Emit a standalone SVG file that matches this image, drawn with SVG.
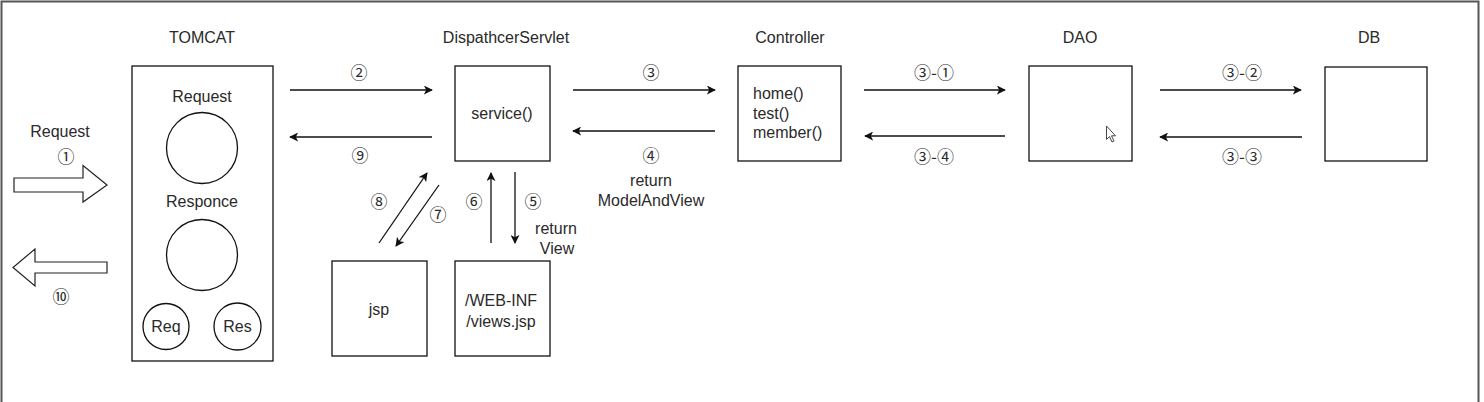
<svg xmlns="http://www.w3.org/2000/svg" width="1484" height="402" viewBox="0 0 1484 402">
<style>
.t{font-family:"Liberation Sans","DejaVu Sans",Arial,sans-serif;font-size:16px;fill:#2a2a2a;text-anchor:middle}
.n{font-family:"Noto Sans CJK JP","Noto Sans CJK SC","DejaVu Sans",sans-serif;font-size:17px;fill:#2a2a2a;text-anchor:middle}
.b{fill:#fff;stroke:#111;stroke-width:1.3}
.c{stroke:#111;stroke-width:1.3;fill:none;marker-end:url(#ah)}
.fat{fill:#fff;stroke:#222;stroke-width:1.2}
</style>
<defs>
<marker id="ah" viewBox="0 0 10 10" refX="9" refY="5" markerWidth="9" markerHeight="9" markerUnits="userSpaceOnUse" orient="auto">
<path d="M0,0 L10,5 L0,10 L2.5,5 Z" fill="#111"/>
</marker>
</defs>
<rect width="1484" height="402" fill="#fff"/>
<path d="M1.5,402 V1.5 H1478.5 V402" fill="none" stroke="#555" stroke-width="2"/>

<g id="tomcat">
<text class="t" x="202" y="43">TOMCAT</text>
<rect class="b" x="132" y="66" width="141" height="295"/>
<text class="t" x="202" y="102">Request</text>
<circle class="b" cx="202" cy="148" r="35.5"/>
<text class="t" x="202" y="207">Responce</text>
<circle class="b" cx="202" cy="255" r="35.5"/>
<circle class="b" cx="166" cy="326.5" r="23"/>
<text class="t" x="166" y="332">Req</text>
<circle class="b" cx="237.5" cy="326.5" r="23.5"/>
<text class="t" x="237.5" y="332">Res</text>
</g>

<g id="request-in">
<text class="t" x="60" y="137">Request</text>
<text class="n" x="66" y="163">①</text>
<path class="fat" d="M14,178 H83 V165.5 L107,185 L83,202 V192 H14 Z"/>
</g>
<g id="response-out">
<path class="fat" d="M107,262 H35 V249 L13,267.5 L35,286 V273 H107 Z"/>
<text class="n" x="61" y="303">⑩</text>
</g>

<g id="dispatcher">
<text class="t" x="506" y="43">DispathcerServlet</text>
<rect class="b" x="455" y="66" width="95" height="95"/>
<text class="t" x="502" y="119">service()</text>
</g>

<g id="jsp">
<rect class="b" x="332" y="261" width="95" height="95"/>
<text class="t" x="379" y="315">jsp</text>
</g>

<g id="views">
<rect class="b" x="455" y="261" width="95" height="95"/>
<text class="t" x="501" y="306">/WEB-INF</text>
<text class="t" x="501" y="327">/views.jsp</text>
</g>

<g id="controller">
<text class="t" x="790" y="43">Controller</text>
<rect class="b" x="738" y="66" width="103" height="95"/>
<text class="t" x="753" y="99" style="text-anchor:start">home()</text>
<text class="t" x="753" y="119" style="text-anchor:start">test()</text>
<text class="t" x="753" y="138" style="text-anchor:start">member()</text>
</g>

<g id="dao">
<text class="t" x="1080" y="43">DAO</text>
<rect class="b" x="1029" y="66" width="103" height="95"/>
<path d="M1106.5,126 V139.5 L1109.5,136.5 L1112,142 L1114,141 L1111.5,135.8 H1115.5 Z" fill="#fff" stroke="#333" stroke-width="0.9"/>
</g>

<g id="db">
<text class="t" x="1369" y="43">DB</text>
<rect class="b" x="1325" y="67" width="102" height="94"/>
</g>

<g id="connectors">
<line class="c" x1="290" y1="90" x2="432" y2="90"/>
<text class="n" x="359" y="79">②</text>
<line class="c" x1="432" y1="137" x2="290" y2="137"/>
<text class="n" x="360" y="162">⑨</text>

<line class="c" x1="573" y1="90" x2="715" y2="90"/>
<text class="n" x="651" y="79">③</text>
<line class="c" x1="715" y1="131" x2="573" y2="131"/>
<text class="n" x="651" y="162">④</text>
<text class="t" x="651" y="186">return</text>
<text class="t" x="651" y="206">ModelAndView</text>

<line class="c" x1="864" y1="90" x2="1005" y2="90"/>
<text class="n" x="934" y="79">③-①</text>
<line class="c" x1="1005" y1="136" x2="865" y2="136"/>
<text class="n" x="934" y="163">③-④</text>

<line class="c" x1="1160" y1="90" x2="1301" y2="90"/>
<text class="n" x="1242" y="79">③-②</text>
<line class="c" x1="1302" y1="137" x2="1160" y2="137"/>
<text class="n" x="1242" y="163">③-③</text>

<line class="c" x1="379" y1="243" x2="427" y2="173"/>
<text class="n" x="379" y="208">⑧</text>
<line class="c" x1="439" y1="185" x2="396" y2="246"/>
<text class="n" x="438" y="221">⑦</text>

<line class="c" x1="491" y1="243" x2="491" y2="173"/>
<text class="n" x="474" y="208">⑥</text>
<line class="c" x1="515" y1="172" x2="515" y2="243"/>
<text class="n" x="533" y="208">⑤</text>
<text class="t" x="556" y="234">return</text>
<text class="t" x="557" y="254">View</text>
</g>
</svg>
